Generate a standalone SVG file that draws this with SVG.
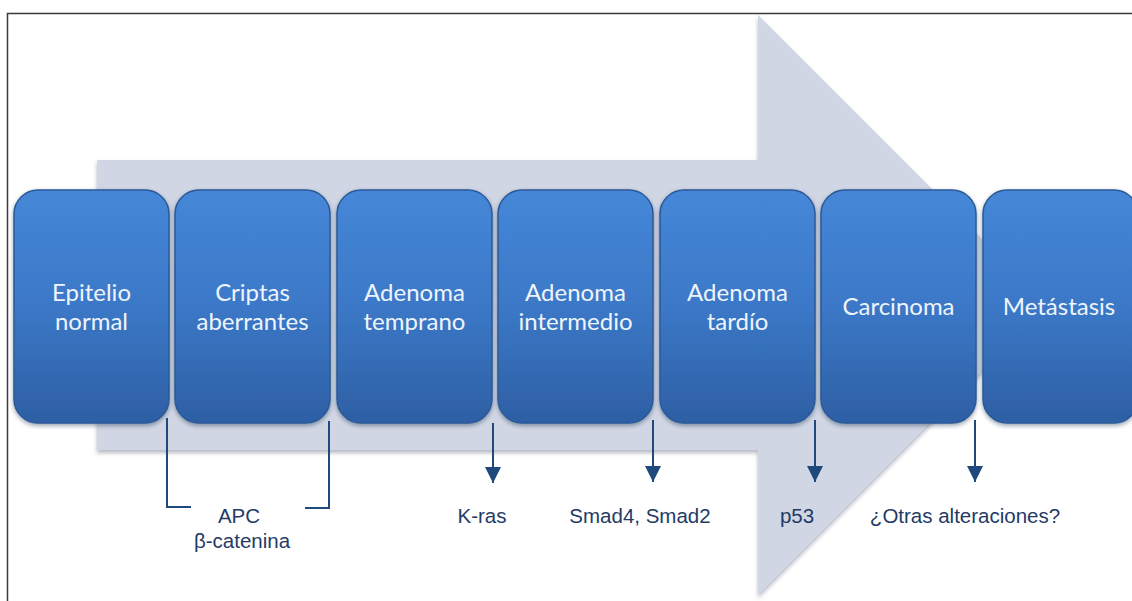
<svg xmlns="http://www.w3.org/2000/svg" width="1132" height="601" viewBox="0 0 1132 601">
  <defs>
    <linearGradient id="boxGrad" x1="0" y1="0" x2="0" y2="1">
      <stop offset="0" stop-color="#4687d8"/>
      <stop offset="0.5" stop-color="#3b78c7"/>
      <stop offset="1" stop-color="#2e5fa4"/>
    </linearGradient>
    <filter id="boxShadow" x="-10%" y="-10%" width="120%" height="120%">
      <feDropShadow dx="0" dy="2" stdDeviation="2" flood-color="#1a2f50" flood-opacity="0.45"/>
    </filter>
    <filter id="arrowShadow" x="-5%" y="-5%" width="110%" height="110%">
      <feDropShadow dx="0" dy="3" stdDeviation="2" flood-color="#5a6478" flood-opacity="0.45"/>
    </filter>
    <marker id="head" markerUnits="userSpaceOnUse" markerWidth="16" markerHeight="16" viewBox="0 0 16 16" refX="16" refY="8" orient="auto">
      <path d="M0,0 L16,8 L0,16 Z" fill="#1f497d"/>
    </marker>
    <style>
      .box { fill: url(#boxGrad); stroke: #2b5a98; stroke-width: 1.5; filter: url(#boxShadow); }
      .boxText { font-family: Lato, "Open Sans", sans-serif; font-size: 24px; fill: #eef4fc; text-anchor: middle; }
      .label { font-family: "Liberation Sans", Arial, sans-serif; font-size: 20.5px; fill: #1f3b66; text-anchor: middle; }
      .conn { stroke: #1f497d; stroke-width: 2; fill: none; }
    </style>
  </defs>

  <rect x="0" y="0" width="1132" height="601" fill="#ffffff"/>
  <path d="M7.5,601 L7.5,13.5 L1132,13.5" fill="none" stroke="#3a3a3a" stroke-width="1.5"/>

  <g id="bigArrow">
    <polygon points="97,160 758,160 758,15 1048,305 758,595 758,450 97,450" fill="#d0d6e4" filter="url(#arrowShadow)"/>
  </g>

  <g id="connectors">
    <path class="conn" d="M167,418 L167,507 L191,507"/>
    <path class="conn" d="M329,421 L329,508 L305,508"/>
    <line class="conn" x1="493" y1="423" x2="493" y2="483" marker-end="url(#head)"/>
    <line class="conn" x1="653" y1="420" x2="653" y2="482" marker-end="url(#head)"/>
    <line class="conn" x1="815" y1="420" x2="815" y2="482" marker-end="url(#head)"/>
    <line class="conn" x1="975" y1="420" x2="975" y2="482" marker-end="url(#head)"/>
  </g>

  <g id="node-epitelio">
    <rect class="box" x="14" y="190" width="155" height="233" rx="24"/>
    <text class="boxText" x="91.5" y="301">Epitelio</text>
    <text class="boxText" x="91.5" y="330">normal</text>
  </g>
  <g id="node-criptas">
    <rect class="box" x="175" y="190" width="155" height="233" rx="24"/>
    <text class="boxText" x="252.5" y="301">Criptas</text>
    <text class="boxText" x="252.5" y="330">aberrantes</text>
  </g>
  <g id="node-temprano">
    <rect class="box" x="337" y="190" width="155" height="233" rx="24"/>
    <text class="boxText" x="414.5" y="301">Adenoma</text>
    <text class="boxText" x="414.5" y="330">temprano</text>
  </g>
  <g id="node-intermedio">
    <rect class="box" x="498" y="190" width="155" height="233" rx="24"/>
    <text class="boxText" x="575.5" y="301">Adenoma</text>
    <text class="boxText" x="575.5" y="330">intermedio</text>
  </g>
  <g id="node-tardio">
    <rect class="box" x="660" y="190" width="155" height="233" rx="24"/>
    <text class="boxText" x="737.5" y="301">Adenoma</text>
    <text class="boxText" x="737.5" y="330">tardío</text>
  </g>
  <g id="node-carcinoma">
    <rect class="box" x="821" y="190" width="155" height="233" rx="24"/>
    <text class="boxText" x="898.5" y="315">Carcinoma</text>
  </g>
  <g id="node-metastasis">
    <rect class="box" x="983" y="190" width="155" height="233" rx="24"/>
    <text class="boxText" x="1059" y="315">Metástasis</text>
  </g>

  <g id="labels">
    <text class="label" x="239" y="523">APC</text>
    <text class="label" x="242" y="548">β-catenina</text>
    <text class="label" x="482" y="523">K-ras</text>
    <text class="label" x="640" y="523">Smad4, Smad2</text>
    <text class="label" x="797" y="523">p53</text>
    <text class="label" x="965" y="523">¿Otras alteraciones?</text>
  </g>
</svg>
